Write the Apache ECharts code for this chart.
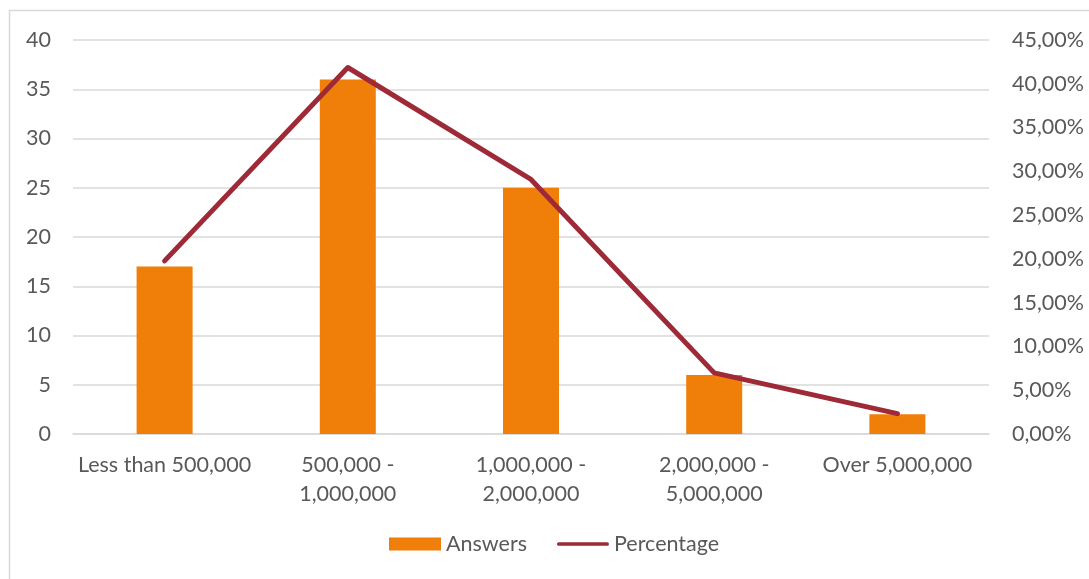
<!DOCTYPE html>
<html>
<head>
<meta charset="utf-8">
<script src="https://cdn.jsdelivr.net/npm/echarts@6/dist/echarts.min.js"></script>
<style>
  html, body { margin: 0; padding: 0; background: #ffffff; }
  #chart { width: 1089px; height: 579px; }
</style>
</head>
<body>
<div id="chart"></div>
<script>
// Revenue brackets surveyed
const categories = [
  'Less than 500,000',
  '500,000 -\n1,000,000',
  '1,000,000 -\n2,000,000',
  '2,000,000 -\n5,000,000',
  'Over 5,000,000'
];
// Number of answers per bracket
const answers = [17, 36, 25, 6, 2];
// Share of all answers, in percent
const percentage = [19.77, 41.86, 29.07, 6.98, 2.33];

const textColor = '#595959';
const gridColor = '#d9d9d9';
const lineColor = '#9e2a37';
const fontFamily = 'Lato, "Open Sans", sans-serif';
const fontSize = 21.5;

// thin bar with rounded ends, padded to the full legend item height
const lineIcon = 'path://M0,0 M0,13 M2,4.5 L54,4.5 A2,2 0 0 1 54,8.5 L2,8.5 A2,2 0 0 1 2,4.5 Z';

const chart = echarts.init(document.getElementById('chart'), null, { renderer: 'canvas' });

chart.setOption({
  animation: false,
  textStyle: { fontFamily: fontFamily, color: textColor },
  graphic: [{
    type: 'rect',
    shape: { x: 9.5, y: 10.5, width: 1100, height: 620 },
    style: { fill: 'none', stroke: gridColor, lineWidth: 1.5 },
    silent: true
  }],
  grid: { left: 73, right: 100, top: 40, bottom: 145, containLabel: false },
  legend: {
    bottom: 19,
    left: 384,
    itemWidth: 52,
    itemHeight: 13,
    itemGap: 30,
    textStyle: { fontFamily: fontFamily, fontSize: fontSize, color: textColor },
    data: [
      { name: 'Answers', icon: 'rect' },
      { name: 'Percentage', icon: lineIcon }
    ]
  },
  xAxis: {
    type: 'category',
    data: categories,
    axisTick: { show: false },
    axisLine: { show: true, lineStyle: { color: gridColor, width: 1.5 } },
    axisLabel: {
      fontFamily: fontFamily, fontSize: fontSize, color: textColor,
      margin: 17, lineHeight: 29, interval: 0
    }
  },
  yAxis: [
    {
      type: 'value',
      min: 0, max: 40, interval: 5,
      axisLine: { show: false },
      axisTick: { show: false },
      splitLine: { lineStyle: { color: gridColor, width: 1.5 } },
      axisLabel: { fontFamily: fontFamily, fontSize: fontSize, color: textColor, margin: 22 }
    },
    {
      type: 'value',
      min: 0, max: 45, interval: 5,
      position: 'right',
      axisLine: { show: false },
      axisTick: { show: false },
      splitLine: { show: false },
      axisLabel: {
        fontFamily: fontFamily, fontSize: fontSize, color: textColor, margin: 23,
        formatter: v => v.toFixed(2).replace('.', ',') + '%'
      }
    }
  ],
  series: [
    {
      name: 'Answers',
      type: 'bar',
      data: answers,
      barWidth: 56,
      itemStyle: { color: '#f07f09' },
      yAxisIndex: 0
    },
    {
      name: 'Percentage',
      type: 'line',
      data: percentage,
      yAxisIndex: 1,
      symbol: 'none',
      lineStyle: { color: lineColor, width: 5, cap: 'round', join: 'round' },
      itemStyle: { color: lineColor }
    }
  ]
});
</script>
</body>
</html>
